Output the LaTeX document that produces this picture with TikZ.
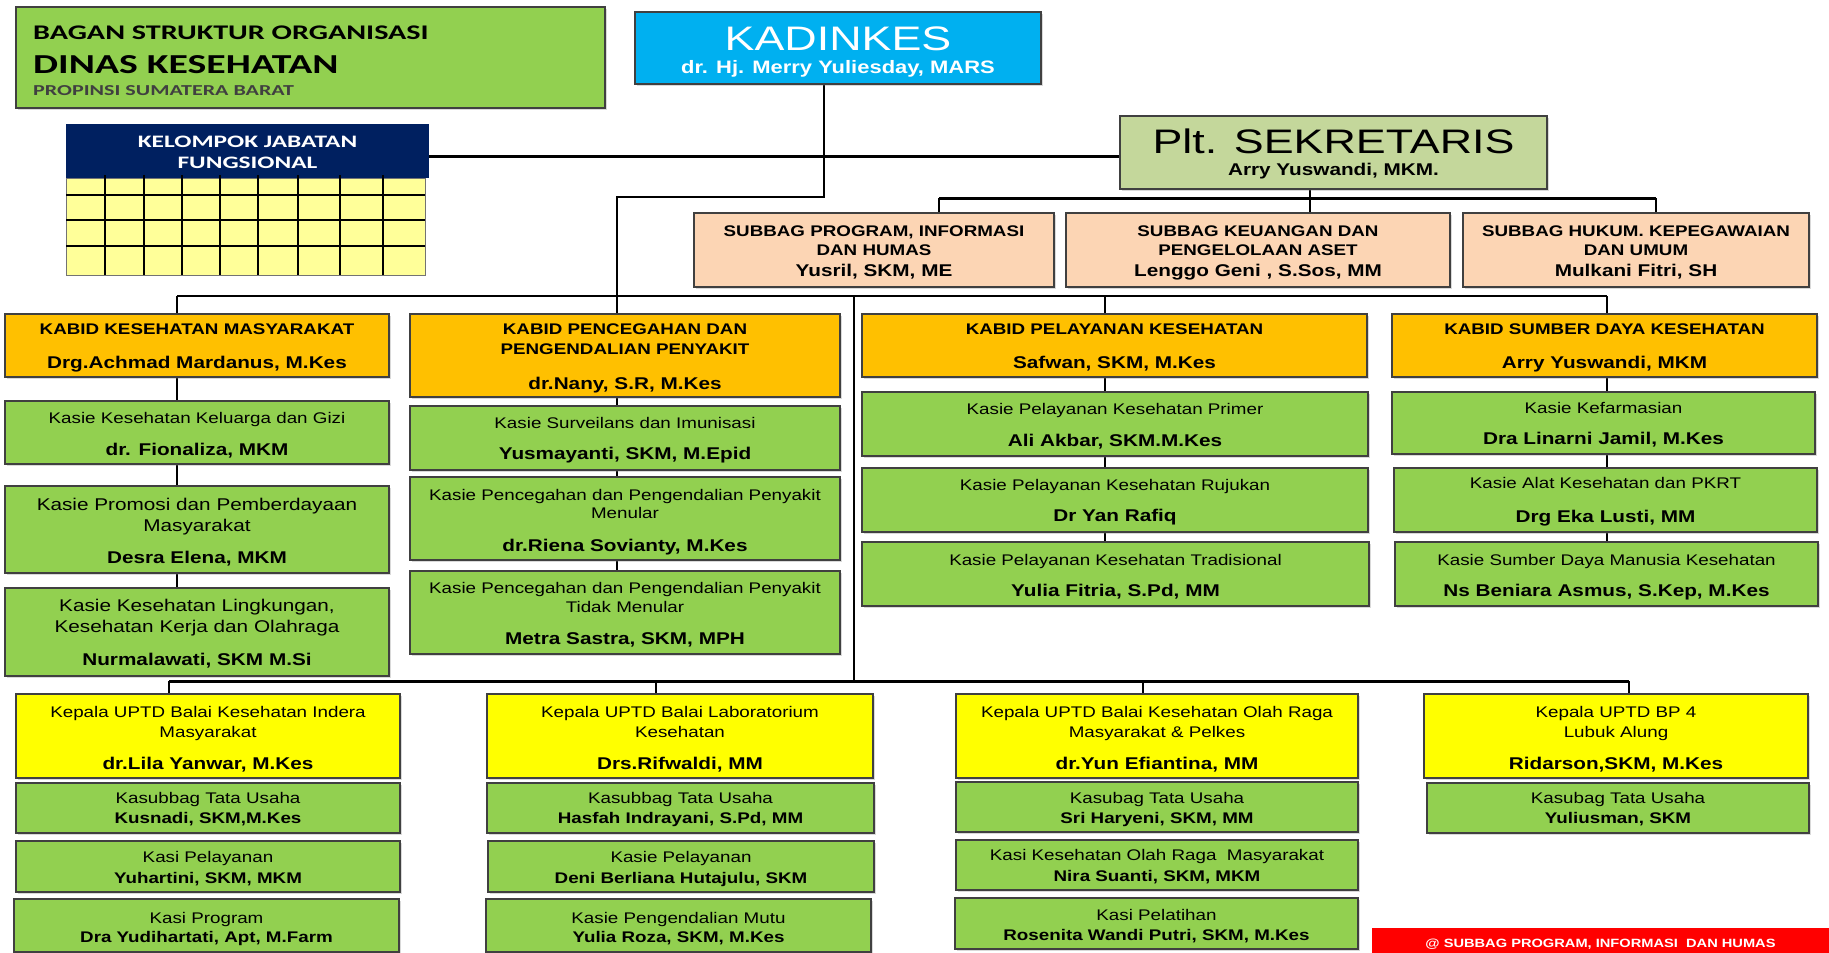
\documentclass[tikz,border=0pt]{standalone}
\usepackage{fontspec}
\setmainfont{Liberation Sans}[FakeStretch=1.22]
\newfontfamily\calfont{Carlito}[FakeStretch=1.45]
\usetikzlibrary{shadows}
\pgfdeclarelayer{background}
\pgfsetlayers{background,main}
\definecolor{cgreen}{HTML}{92D050}
\definecolor{ccyan}{HTML}{00B0F0}
\definecolor{cnavy}{HTML}{002060}
\definecolor{cylw}{HTML}{FFFF99}
\definecolor{colive}{HTML}{C4D79B}
\definecolor{cpeach}{HTML}{FCD5B4}
\definecolor{camber}{HTML}{FFC000}
\definecolor{cyellow}{HTML}{FFFF00}
\definecolor{cred}{HTML}{FF0000}
\newcommand\mkbox[6]{\node[#1, minimum width={#5-#3}, minimum height={#6-#4}] (#2) at ({(#3+#5)/2},{(#4+#6)/2}) {};}
\newcommand\tline[5]{\node[anchor=base, inner sep=0pt, #4] (#1) at (#2,#3) {#5};}
\tikzset{
  bx/.style={draw=black!75, line width=1.3pt, inner sep=0pt, outer sep=0pt,
    drop shadow={shadow xshift=1.5pt, shadow yshift=-1.5pt, opacity=0.3}},
  gbox/.style={bx, fill=cgreen},
  abox/.style={bx, fill=camber},
  ybox/.style={bx, fill=cyellow},
  pbox/.style={bx, fill=cpeach},
  obox/.style={bx, fill=colive},
  cbox/.style={bx, fill=ccyan},
  nbox/.style={fill=cnavy, inner sep=0pt, outer sep=0pt},
  redbox/.style={fill=cred, inner sep=0pt, outer sep=0pt},
  treg/.style={font=\fontsize{15.4}{18}\selectfont},
  tregl/.style={font=\fontsize{17}{20}\selectfont},
  tbs/.style={font=\fontsize{15.4}{18}\selectfont\bfseries},
  tbd/.style={font=\fontsize{17}{20}\selectfont\bfseries},
  conn/.style={line width=2.6pt, black},
}
\begin{document}
\begin{tikzpicture}[x=1pt,y=-1pt]
\useasboundingbox (0,0) rectangle (1829,953);
% ---------- boxes ----------
\mkbox{gbox}{title}{16}{7}{605}{108}
\mkbox{cbox}{kad}{635}{12}{1041}{84}
\mkbox{nbox}{kjf}{66}{124}{429}{178}
\mkbox{obox}{ps}{1120}{116}{1547}{189}
\mkbox{pbox}{sb1}{694}{213}{1054}{287}
\mkbox{pbox}{sb2}{1066}{213}{1450}{287}
\mkbox{pbox}{sb3}{1463}{213}{1809}{287}
\mkbox{abox}{kb1}{5}{314}{389}{377}
\mkbox{abox}{kb2}{410}{314}{840}{397}
\mkbox{abox}{kb3}{862}{314}{1367}{377}
\mkbox{abox}{kb4}{1392}{314}{1817}{377}
\mkbox{gbox}{k11}{5}{401}{389}{464}
\mkbox{gbox}{k12}{5}{486}{389}{573}
\mkbox{gbox}{k13}{5}{588}{389}{676}
\mkbox{gbox}{k21}{410}{406}{840}{470}
\mkbox{gbox}{k22}{410}{477}{840}{560}
\mkbox{gbox}{k23}{410}{571}{840}{654}
\mkbox{gbox}{k31}{862}{392}{1368}{456}
\mkbox{gbox}{k32}{862}{468}{1368}{532}
\mkbox{gbox}{k33}{862}{542}{1369}{606}
\mkbox{gbox}{k41}{1392}{392}{1815}{454}
\mkbox{gbox}{k42}{1394}{468}{1817}{532}
\mkbox{gbox}{k43}{1395}{542}{1818}{606}
\mkbox{ybox}{u1}{16}{694}{400}{778}
\mkbox{gbox}{u11}{16}{783}{400}{833}
\mkbox{gbox}{u12}{16}{841}{400}{892}
\mkbox{gbox}{u13}{14}{899}{399}{952}
\mkbox{ybox}{u2}{487}{694}{873}{778}
\mkbox{gbox}{u21}{487}{783}{874}{833}
\mkbox{gbox}{u22}{488}{841}{874}{892}
\mkbox{gbox}{u23}{486}{899}{871}{952}
\mkbox{ybox}{u3}{956}{694}{1358}{778}
\mkbox{gbox}{u31}{956}{782}{1358}{832}
\mkbox{gbox}{u32}{956}{840}{1358}{890}
\mkbox{gbox}{u33}{955}{898}{1358}{949}
\mkbox{ybox}{u4}{1424}{694}{1808}{778}
\mkbox{gbox}{u41}{1427}{783}{1809}{833}
\mkbox{redbox}{foot}{1372}{928}{1829}{953}
% ---------- fungsional grid ----------
\fill[cylw] (66,178) rectangle (425,275);
\draw[black!55, line width=1pt] (66,178) rectangle (425,275);
\foreach \yy in {195,220,246} \draw[line width=2pt] (66,\yy) -- (425,\yy);
\foreach \xx in {105,144,182,220,258,298,340,383} \draw[line width=2.5pt] (\xx,175) -- (\xx,275);
% ---------- texts ----------
\tline{t1}{33}{39.3}{anchor=base west, font=\calfont\bfseries\fontsize{20.8}{24}\selectfont}{BAGAN STRUKTUR ORGANISASI}
\tline{t2}{33}{73}{anchor=base west, font=\calfont\bfseries\fontsize{27.4}{30}\selectfont}{DINAS KESEHATAN}
\tline{t3}{33}{95.6}{anchor=base west, text=black!75, font=\calfont\bfseries\fontsize{15.2}{18}\selectfont}{PROPINSI SUMATERA BARAT}
\tline{kjf1}{247.5}{147.5}{text=white, font=\calfont\bfseries\fontsize{17.5}{20}\selectfont}{KELOMPOK JABATAN}
\tline{kjf2}{247.5}{168}{text=white, font=\calfont\bfseries\fontsize{17.5}{20}\selectfont}{FUNGSIONAL}
\tline{kad1}{838}{50.9}{text=white, font=\fontsize{34}{38}\selectfont}{\scalebox{1.08}[1]{KADINKES}}
\tline{kad2}{838}{73.2}{text=white, font=\fontsize{18}{20}\selectfont\bfseries}{dr. Hj. Merry Yuliesday, MARS}
\tline{ps1}{1333.5}{153.4}{font=\fontsize{34}{38}\selectfont}{\scalebox{1.08}[1]{Plt. SEKRETARIS}}
\tline{ps2}{1333.5}{175}{tbd}{Arry Yuswandi, MKM.}
% subbag
\tline{sb1a}{874}{236}{tbs}{SUBBAG PROGRAM, INFORMASI}
\tline{sb1b}{874}{255.5}{tbs}{DAN HUMAS}
\tline{sb1c}{874}{276.6}{tbd}{Yusril, SKM, ME}
\tline{sb2a}{1258}{236}{tbs}{SUBBAG KEUANGAN DAN}
\tline{sb2b}{1258}{255.5}{tbs}{PENGELOLAAN ASET}
\tline{sb2c}{1258}{276.6}{tbd}{Lenggo Geni , S.Sos, MM}
\tline{sb3a}{1636}{236}{tbs}{SUBBAG HUKUM. KEPEGAWAIAN}
\tline{sb3b}{1636}{255.5}{tbs}{DAN UMUM}
\tline{sb3c}{1636}{276.6}{tbd}{Mulkani Fitri, SH}
% kabid
\tline{kb1a}{197}{334.7}{tbs}{KABID KESEHATAN MASYARAKAT}
\tline{kb1b}{197}{368}{tbd}{Drg.Achmad Mardanus, M.Kes}
\tline{kb2a}{625}{334.7}{tbs}{KABID PENCEGAHAN DAN}
\tline{kb2b}{625}{354}{tbs}{PENGENDALIAN PENYAKIT}
\tline{kb2c}{625}{389}{tbd}{dr.Nany, S.R, M.Kes}
\tline{kb3a}{1114.5}{334.7}{tbs}{KABID PELAYANAN KESEHATAN}
\tline{kb3b}{1114.5}{368.4}{tbd}{Safwan, SKM, M.Kes}
\tline{kb4a}{1604.5}{334.7}{tbs}{KABID SUMBER DAYA KESEHATAN}
\tline{kb4b}{1604.5}{368.4}{tbd}{Arry Yuswandi, MKM}
% column 1
\tline{k11a}{197}{423.5}{treg}{Kasie Kesehatan Keluarga dan Gizi}
\tline{k11b}{197}{455}{tbd}{dr. Fionaliza, MKM}
\tline{k12a}{197}{510.6}{tregl}{Kasie Promosi dan Pemberdayaan}
\tline{k12b}{197}{531.6}{tregl}{Masyarakat}
\tline{k12c}{197}{563.4}{tbd}{Desra Elena, MKM}
\tline{k13a}{197}{611.6}{tregl}{Kasie Kesehatan Lingkungan,}
\tline{k13b}{197}{632.8}{tregl}{Kesehatan Kerja dan Olahraga}
\tline{k13c}{197}{665.4}{tbd}{Nurmalawati, SKM M.Si}
% column 2
\tline{k21a}{625}{428.5}{treg}{Kasie Surveilans dan Imunisasi}
\tline{k21b}{625}{459.8}{tbd}{Yusmayanti, SKM, M.Epid}
\tline{k22a}{625}{500.3}{treg}{Kasie Pencegahan dan Pengendalian Penyakit}
\tline{k22b}{625}{518.8}{treg}{Menular}
\tline{k22c}{625}{551}{tbd}{dr.Riena Sovianty, M.Kes}
\tline{k23a}{625}{593.7}{treg}{Kasie Pencegahan dan Pengendalian Penyakit}
\tline{k23b}{625}{612.2}{treg}{Tidak Menular}
\tline{k23c}{625}{644.4}{tbd}{Metra Sastra, SKM, MPH}
% column 3
\tline{k31a}{1115}{414.3}{treg}{Kasie Pelayanan Kesehatan Primer}
\tline{k31b}{1115}{446.1}{tbd}{Ali Akbar, SKM.M.Kes}
\tline{k32a}{1115}{490.5}{treg}{Kasie Pelayanan Kesehatan Rujukan}
\tline{k32b}{1115}{521.1}{tbd}{Dr Yan Rafiq}
\tline{k33a}{1115.5}{565}{treg}{Kasie Pelayanan Kesehatan Tradisional}
\tline{k33b}{1115.5}{596.1}{tbd}{Yulia Fitria, S.Pd, MM}
% column 4
\tline{k41a}{1603.5}{413}{treg}{Kasie Kefarmasian}
\tline{k41b}{1603.5}{444.4}{tbd}{Dra Linarni Jamil, M.Kes}
\tline{k42a}{1605.5}{488.8}{treg}{Kasie Alat Kesehatan dan PKRT}
\tline{k42b}{1605.5}{522.8}{tbd}{Drg Eka Lusti, MM}
\tline{k43a}{1606.5}{565}{treg}{Kasie Sumber Daya Manusia Kesehatan}
\tline{k43b}{1606.5}{596.1}{tbd}{Ns Beniara Asmus, S.Kep, M.Kes}
% UPTD 1
\tline{u1a}{208}{717.5}{treg}{Kepala UPTD Balai Kesehatan Indera}
\tline{u1b}{208}{737.2}{treg}{Masyarakat}
\tline{u1c}{208}{769.1}{tbd}{dr.Lila Yanwar, M.Kes}
\tline{u11a}{208}{803.8}{treg}{Kasubbag Tata Usaha}
\tline{u11b}{208}{823.3}{tbs}{Kusnadi, SKM,M.Kes}
\tline{u12a}{208}{862.5}{treg}{Kasi Pelayanan}
\tline{u12b}{208}{883.3}{tbs}{Yuhartini, SKM, MKM}
\tline{u13a}{206.5}{923}{treg}{Kasi Program}
\tline{u13b}{206.5}{942.2}{tbs}{Dra Yudihartati, Apt, M.Farm}
% UPTD 2
\tline{u2a}{680}{717.5}{treg}{Kepala UPTD Balai Laboratorium}
\tline{u2b}{680}{737.2}{treg}{Kesehatan}
\tline{u2c}{680}{769.1}{tbd}{Drs.Rifwaldi, MM}
\tline{u21a}{680.5}{803.8}{treg}{Kasubbag Tata Usaha}
\tline{u21b}{680.5}{823.3}{tbs}{Hasfah Indrayani, S.Pd, MM}
\tline{u22a}{681}{862.5}{treg}{Kasie Pelayanan}
\tline{u22b}{681}{883.3}{tbs}{Deni Berliana Hutajulu, SKM}
\tline{u23a}{678.5}{923}{treg}{Kasie Pengendalian Mutu}
\tline{u23b}{678.5}{942.2}{tbs}{Yulia Roza, SKM, M.Kes}
% UPTD 3
\tline{u3a}{1157}{717.5}{treg}{Kepala UPTD Balai Kesehatan Olah Raga}
\tline{u3b}{1157}{737.2}{treg}{Masyarakat \& Pelkes}
\tline{u3c}{1157}{769.1}{tbd}{dr.Yun Efiantina, MM}
\tline{u31a}{1157}{803.8}{treg}{Kasubag Tata Usaha}
\tline{u31b}{1157}{823.3}{tbs}{Sri Haryeni, SKM, MM}
\tline{u32a}{1157}{860.5}{treg}{Kasi Kesehatan Olah Raga\ \ Masyarakat}
\tline{u32b}{1157}{881.8}{tbs}{Nira Suanti, SKM, MKM}
\tline{u33a}{1156.5}{920.5}{treg}{Kasi Pelatihan}
\tline{u33b}{1156.5}{940}{tbs}{Rosenita Wandi Putri, SKM, M.Kes}
% UPTD 4
\tline{u4a}{1616}{717.5}{treg}{Kepala UPTD BP 4}
\tline{u4b}{1616}{737.2}{treg}{Lubuk Alung}
\tline{u4c}{1616}{769.1}{tbd}{Ridarson,SKM, M.Kes}
\tline{u41a}{1618}{803.8}{treg}{Kasubag Tata Usaha}
\tline{u41b}{1618}{823.3}{tbs}{Yuliusman, SKM}
% footer
\tline{foott}{1600.5}{947.3}{text=white, font=\fontsize{12}{14}\selectfont\bfseries}{@ SUBBAG PROGRAM, INFORMASI\ \ DAN HUMAS}
% ---------- connectors ----------
\coordinate (ja) at (824,197);
\coordinate (jb) at (617,197);
\coordinate (jl) at (177,296);
\coordinate (jr) at (1607,296);
\coordinate (jm) at (854,296);
\coordinate (j3) at (1105,296);
\coordinate (jbl) at (169,681);
\coordinate (jbr) at (1629,681);
\coordinate (jbm) at (854,681);
\coordinate (jb2) at (656,681);
\coordinate (jb3) at (1143,681);
\coordinate (js) at (1310,198);
\coordinate (js1) at (939,198);
\coordinate (js3) at (1656,198);
\coordinate (jk) at (0,156);
\begin{pgfonlayer}{background}
\draw[conn, line width=3pt] (kjf.east |- jk) -- (ps.west |- jk);
\draw[conn] (kad.south -| ja) -- (ja) -- (jb) -- (jb |- k23.north);
\draw[conn, line width=2.2pt] (jl) -- (jr);
\draw[conn] (jl) -- (jl |- k13.north);
\draw[conn] (j3) -- (j3 |- k33.north);
\draw[conn] (jr) -- (jr |- k43.north);
\draw[conn] (jm) -- (jbm);
\draw[conn, line width=3pt] (jbl) -- (jbr);
\draw[conn] (jbl) -- (jbl |- u1.north);
\draw[conn] (jb2) -- (jb2 |- u2.north);
\draw[conn] (jb3) -- (jb3 |- u3.north);
\draw[conn] (jbr) -- (jbr |- u4.north);
\draw[conn] (ps.south -| js) -- (js);
\draw[conn, line width=3pt] (js1) -- (js3);
\draw[conn] (js1) -- (js1 |- sb1.north);
\draw[conn] (js) -- (js |- sb2.north);
\draw[conn] (js3) -- (js3 |- sb3.north);
\end{pgfonlayer}
\end{tikzpicture}
\end{document}
